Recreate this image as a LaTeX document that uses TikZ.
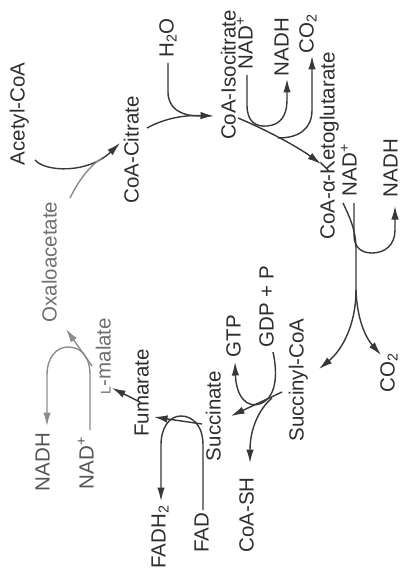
\documentclass[tikz,border=0pt]{standalone}
\usepackage{fontspec}
\setmainfont{Liberation Sans}
\usetikzlibrary{arrows.meta}
\definecolor{ink}{HTML}{383838}
\definecolor{inklight}{HTML}{8C8C8C}
\definecolor{txt}{HTML}{2E2E2E}
\definecolor{txtmid}{HTML}{555555}
\definecolor{txtlight}{HTML}{707070}
\begin{document}
\begin{tikzpicture}[x=1pt,y=-1pt,
  lbl/.style={rotate=90, inner sep=0pt, text height=0.72em, text depth=0pt,
    font=\fontsize{20.5}{22}\selectfont, text=txt},
  lblmid/.style={lbl, text=txtmid},
  lbllight/.style={lbl, text=txtlight},
  conn/.style={draw=ink, line width=1.4pt},
  connlight/.style={conn, draw=inklight},
  tip/.style={-{Latex[length=13.5pt,width=7.5pt]}},
]
\path[use as bounding box, fill=white] (0,0) rectangle (410,572);

% ---- metabolites and cofactors (text runs bottom to top) ----
\node[lbl] (acetyl) at (21,114) {Acetyl-CoA};
\node[lbl] (water) at (170,38) {H\textsubscript{2}O};
\node[lbl] (citrate) at (135,150) {CoA-Citrate};
\node[lbl] (isocitrate) at (232,75) {CoA-Isocitrate};
\node[lbl] (nadA) at (249,43) {NAD\textsuperscript{+}};
\node[lbl] (nadhA) at (285,47) {NADH};
\node[lbl] (coA) at (310,34) {CO\textsubscript{2}};
\node[lbl] (ketoglutarate) at (331,146) {CoA-α-Ketoglutarate};
\node[lbl] (nadB) at (353,170) {NAD\textsuperscript{+}};
\node[lbl] (nadhB) at (394,168) {NADH};
\node[lbl] (coB) at (391,373) {CO\textsubscript{2}};
\node[lbl] (succinylcoa) at (300,380) {Succinyl-CoA};
\node[lbl] (gdp) at (270,307) {GDP + P};
\node[lbl] (gtp) at (237,336) {GTP};
\node[lbl] (succinate) at (217,416) {Succinate};
\node[lbl] (coash) at (250,515) {CoA-SH};
\node[lbl] (fumarate) at (145,393) {Fumarate};
\node[lbllight] (malate) at (107,356) {{\fontsize{14}{14}\selectfont L}-malate};
\node[lbllight] (oxaloacetate) at (53,262) {Oxaloacetate};
\node[lblmid] (nadhC) at (46,462) {NADH};
\node[lblmid] (nadC) at (90,463) {NAD\textsuperscript{+}};
\node[lbl] (fadh) at (162,537) {FADH\textsubscript{2}};
\node[lbl] (fad) at (205,533) {FAD};

% ---- connector end points ----
\coordinate (acetylOut) at (35,160);
\coordinate (citrateIn) at (120,143);
\coordinate (oxaloOut) at (70,198);
\coordinate (oxaloJoin) at (102,158);
\coordinate (citrateOut) at (147,128);
\coordinate (isoIn) at (214,116);
\coordinate (waterOut) at (168,63);
\coordinate (waterJoin) at (200,116);
\coordinate (isoOut) at (238,118);
\coordinate (ketoIn) at (321,164);
\coordinate (nadAOut) at (247,75);
\coordinate (nadhAIn) at (287,79);
\coordinate (coAOut) at (278,138);
\coordinate (coAIn) at (312,56);
\coordinate (ketoOut) at (343,203);
\coordinate (fork) at (356,290);
\coordinate (succinylIn) at (319,369);
\coordinate (coBIn) at (381,355);
\coordinate (nadBOut) at (354,203);
\coordinate (nadhBIn) at (395,206);
\coordinate (succinylOut) at (282,392);
\coordinate (succinateIn) at (231,416);
\coordinate (gdpOut) at (273,352);
\coordinate (gtpIn) at (235,362);
\coordinate (coashOut) at (272,398);
\coordinate (coashIn) at (250,463);
\coordinate (succinateOut) at (202,424);
\coordinate (fumarateIn) at (154,417);
\coordinate (fadOut) at (203,510);
\coordinate (fadhIn) at (161,501);
\coordinate (fumarateOut) at (140,402);
\coordinate (malateIn) at (112,388);
\coordinate (nadCOut) at (90,430);
\coordinate (nadhCIn) at (47,426);
\coordinate (malateOut) at (92,366);
\coordinate (oxaloIn) at (66,329);

% ---- acetyl-CoA + oxaloacetate -> citrate ----
\draw[conn,tip] (acetylOut) .. controls (45,172) and (88,174) .. (citrateIn);
\draw[connlight] (oxaloOut) .. controls (80,178) and (90,166) .. (oxaloJoin);

% ---- citrate -> isocitrate ----
\draw[conn,tip] (citrateOut) .. controls (165,118) and (185,115) .. (isoIn);
\draw[conn] (waterOut) -- (168,92) .. controls (168,108) and (180,116) .. (waterJoin);

% ---- isocitrate -> alpha-ketoglutarate ----
\draw[conn,tip] (isoOut) .. controls (262,128) and (295,145) .. (ketoIn);
\draw[conn,tip] (nadAOut) -- (247,105) .. controls (247,122) and (256,127) .. (267,126)
  .. controls (281,125) and (287,115) .. (287,100) -- (nadhAIn);
\draw[conn,tip] (coAOut) .. controls (300,138) and (312,128) .. (312,110) -- (coAIn);

% ---- alpha-ketoglutarate -> succinyl-CoA ----
\draw[conn] (ketoOut) .. controls (350,218) and (356,230) .. (356,250) -- (fork);
\draw[conn,tip] (fork) .. controls (356,325) and (342,350) .. (succinylIn);
\draw[conn,tip] (fork) .. controls (357,320) and (366,338) .. (coBIn);
\draw[conn,tip] (nadBOut) -- (354,235) .. controls (354,248) and (362,253) .. (372,253)
  .. controls (385,253) and (395,245) .. (395,230) -- (nadhBIn);

% ---- succinyl-CoA -> succinate ----
\draw[conn,tip] (succinylOut) -- (succinateIn);
\draw[conn,tip] (gdpOut) .. controls (278,375) and (276,396) .. (262,403)
  .. controls (246,410) and (236,395) .. (gtpIn);
\draw[conn,tip] (coashOut) .. controls (258,410) and (250,430) .. (coashIn);

% ---- succinate -> fumarate ----
\draw[conn,tip] (succinateOut) -- (fumarateIn);
\draw[conn,tip] (fadOut) -- (203,445) .. controls (203,425) and (192,416) .. (181,416)
  .. controls (169,416) and (161,428) .. (161,445) -- (fadhIn);

% ---- fumarate -> L-malate -> oxaloacetate ----
\draw[conn,tip] (fumarateOut) -- (malateIn);
\draw[connlight,tip] (nadCOut) -- (90,375) .. controls (90,355) and (80,347) .. (68,347)
  .. controls (56,347) and (47,358) .. (47,375) -- (nadhCIn);
\draw[connlight,tip] (malateOut) -- (oxaloIn);
\end{tikzpicture}
\end{document}
